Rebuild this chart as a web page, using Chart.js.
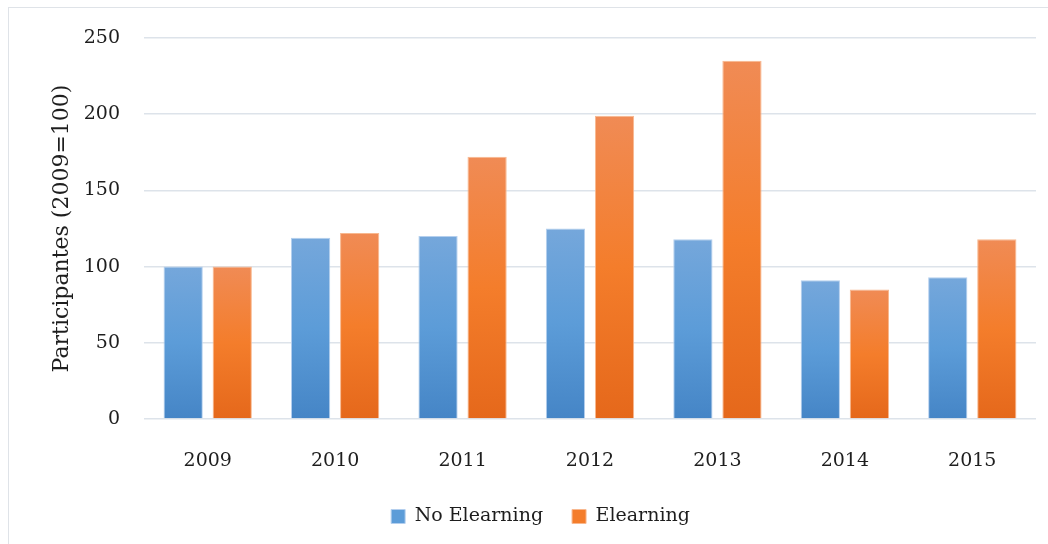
<!DOCTYPE html>
<html>
<head>
<meta charset="utf-8">
<script src="https://cdn.jsdelivr.net/npm/chart.js@4"></script>
<style>
  html, body { margin: 0; padding: 0; background: #fff; }
  #wrap { position: relative; width: 1048px; height: 544px; overflow: hidden; }
  #frame { position: absolute; left: 8px; top: 7px; width: 1100px; height: 600px; border: 1.5px solid #dfe3e8; }
  canvas { position: absolute; left: 0; top: 0; }
</style>
</head>
<body>
<div id="wrap">
  <div id="frame"></div>
  <canvas id="grafico" width="1048" height="544"></canvas>
</div>
<script>
const anos = ["2009", "2010", "2011", "2012", "2013", "2014", "2015"];
const semElearning = [100, 119, 120, 125, 118, 91, 93];
const comElearning = [100, 122, 172, 199, 235, 85, 118];
const rotuloSem = "No Elearning";
const rotuloCom = "Elearning";
const tituloY = "Participantes (2009=100)";

const fonte = "'DejaVu Serif', 'Liberation Serif', serif";
const corTexto = "#1e1e1e";

// gradiente por barra, claro em cima e mais escuro embaixo
function gradiente(cores) {
    return function(ctx) {
        const chart = ctx.chart;
        const y = chart.scales && chart.scales.y;
        if (!y || ctx.parsed === undefined) return cores[1];
        const topo = y.getPixelForValue(ctx.parsed.y);
        const base = y.getPixelForValue(0);
        const g = chart.ctx.createLinearGradient(0, topo, 0, base);
        g.addColorStop(0, cores[0]);
        g.addColorStop(0.5, cores[1]);
        g.addColorStop(1, cores[2]);
        return g;
    };
}

const azul = ["#75a7db", "#5c9cd8", "#4585c6"];
const laranja = ["#f08b55", "#f47d2b", "#e5681b"];

new Chart(document.getElementById("grafico").getContext("2d"), {
    type: 'bar',
    data: {
        labels: anos,
        datasets: [{
            label: rotuloSem,
            data: semElearning,
            backgroundColor: gradiente(azul),
            borderColor: "#b4cfee",
            borderWidth: 1,
            categoryPercentage: 0.77,
            barPercentage: 0.8
        }, {
            label: rotuloCom,
            data: comElearning,
            backgroundColor: gradiente(laranja),
            borderColor: "#f8b88f",
            borderWidth: 1,
            categoryPercentage: 0.77,
            barPercentage: 0.8
        }]
    },
    options: {
        responsive: false,
        animation: false,
        layout: { padding: { left: 45, right: 12, top: 38, bottom: 8 } },
        plugins: {
            tooltip: { enabled: false },
            legend: {
                position: 'bottom',
                labels: {
                    boxWidth: 14,
                    boxHeight: 14,
                    padding: 29,
                    color: corTexto,
                    font: { family: fonte, size: 19 },
                    generateLabels: function(chart) {
                        return chart.data.datasets.map((d, i) => ({
                            text: d.label,
                            fillStyle: (i === 0 ? azul : laranja)[1],
                            strokeStyle: i === 0 ? "#b4cfee" : "#f8b88f",
                            lineWidth: 1,
                            fontColor: corTexto,
                            datasetIndex: i
                        }));
                    }
                }
            }
        },
        scales: {
            x: {
                grid: { display: false, drawTicks: false },
                border: { display: false },
                ticks: { color: corTexto, padding: 31, font: { family: fonte, size: 19 } },
                afterFit: function(s) { s.height = 59; }
            },
            y: {
                min: 0,
                max: 250,
                grid: { color: "#dde3ea", lineWidth: 1.5, drawTicks: false },
                border: { display: false },
                ticks: { stepSize: 50, color: corTexto, padding: 24, font: { family: fonte, size: 19 } },
                title: { display: true, text: tituloY, color: corTexto, font: { family: fonte, size: 22 } },
                afterFit: function(s) { s.width = 99; }
            }
        }
    }
});
</script>
</body>
</html>
